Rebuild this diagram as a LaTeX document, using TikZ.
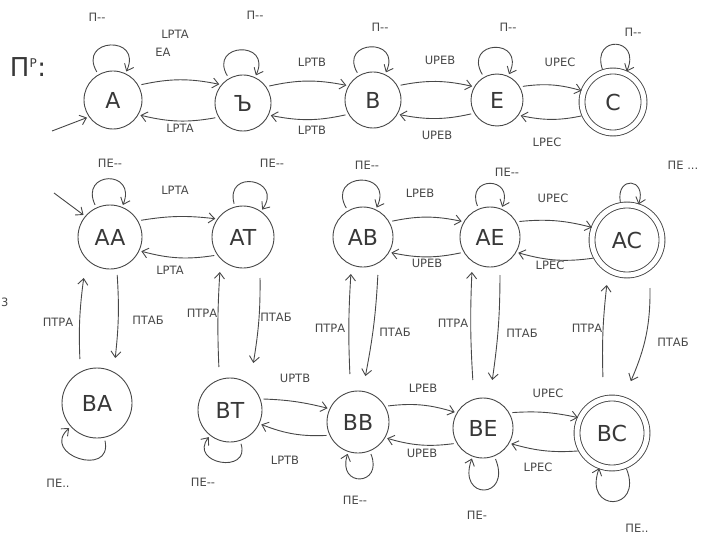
\documentclass[tikz,border=0pt]{standalone}
\usepackage{fontspec}
\setmainfont{DejaVu Sans}
\usetikzlibrary{arrows.meta,calc}
\begin{document}
\begin{tikzpicture}[x=1pt,y=1pt,
  ink/.style={draw=black!72, line width=0.9pt},
  state/.style={ink, circle, inner sep=0pt, font=\fontsize{22}{24}\selectfont, text=black!78},
  accept/.style={state, double, double distance=5pt},
  tr/.style={ink, -{Straight Barb[length=6pt,width=10pt]}, shorten >=2pt, shorten <=3pt},
  lbl/.style={font=\fontsize{11.5}{13}\selectfont, text=black!72, inner sep=1pt},
]
\useasboundingbox (0,0) rectangle (722,-540);

% title
\node[font=\fontsize{26}{28}\selectfont, text=black!78] (title) at (28,-67) {П\textsuperscript{\fontsize{12}{12}\selectfont P}:};

% ---- top row
\node[state, minimum size=58pt] (A) at (113,-100) {A};
\node[state, minimum size=56pt] (T) at (243,-103) {Ъ};
\node[state, minimum size=56pt] (B) at (373,-100) {B};
\node[state, minimum size=52pt] (E) at (497,-100) {E};
\node[accept, minimum size=62pt] (C) at (613,-102) {C};

% ---- middle row
\node[state, minimum size=64pt] (AA) at (110,-237) {AA};
\node[state, minimum size=62pt] (AT) at (243,-237) {AT};
\node[state, minimum size=60pt] (AB) at (363,-237) {AB};
\node[state, minimum size=60pt] (AE) at (490,-237) {AE};
\node[accept, minimum size=70pt] (AC) at (627,-240) {AC};

% ---- bottom row
\node[state, minimum size=70pt] (BA) at (97,-403) {BA};
\node[state, minimum size=64pt] (BT) at (230,-410) {BT};
\node[state, minimum size=62pt] (BB) at (358,-422) {BB};
\node[state, minimum size=60pt] (BE) at (483,-428) {BE};
\node[accept, minimum size=70pt] (BC) at (612,-433) {BC};

% initial arrows
\coordinate (i1) at (52,-131);
\coordinate (i2) at (54,-193);
\draw[tr, shorten <=0pt] (i1) -- (A.215);
\draw[tr, shorten <=0pt] (i2) -- (AA.140);

% ---- top row transitions
\draw[tr] (A.30) to[bend left=12] (T.140);
\draw[tr] (T.210) to[bend left=12] (A.330);
\draw[tr] (T.35) to[bend left=12] (B.150);
\draw[tr] (B.210) to[bend left=12] (T.335);
\draw[tr] (B.30) to[bend left=12] (E.150);
\draw[tr] (E.210) to[bend left=12] (B.330);
\draw[tr] (E.30) to[bend left=12] (C.160);
\draw[tr] (C.205) to[bend left=12] (E.325);

\node[lbl] (tA1) at (175,-34) {LPTA};
\node[lbl] (tA2) at (163,-52) {EA};
\node[lbl] (tA3) at (180,-128) {LPTA};
\node[lbl] (tB1) at (312,-62) {LPTB};
\node[lbl] (tB2) at (312,-130) {LPTB};
\node[lbl] (tE1) at (440,-60) {UPEB};
\node[lbl] (tE2) at (437,-135) {UPEB};
\node[lbl] (tC1) at (560,-62) {UPEC};
\node[lbl] (tC2) at (547,-142) {LPEC};

% top loops
\draw[tr] (A) to[out=120,in=65,looseness=4] (A);
\draw[tr] (T) to[out=120,in=65,looseness=4] (T);
\draw[tr] (B) to[out=120,in=65,looseness=4] (B);
\draw[tr] (E) to[out=120,in=65,looseness=4.5] (E);
\draw[tr] (C) to[out=108,in=66,looseness=4.5] (C);
\node[lbl] (pA) at (97,-17) {П-{}-};
\node[lbl] (pT) at (255,-15) {П-{}-};
\node[lbl] (pB) at (380,-27) {П-{}-};
\node[lbl] (pE) at (508,-27) {П-{}-};
\node[lbl] (pC) at (633,-32) {П-{}-};

% ---- middle row transitions
\draw[tr] (AA.30) to[bend left=8] (AT.145);
\draw[tr] (AT.215) to[bend left=12] (AA.335);
\draw[tr] (AB.30) to[bend left=12] (AE.150);
\draw[tr] (AE.210) to[bend left=12] (AB.330);
\draw[tr] (AE.30) to[bend left=10] (AC.160);
\draw[tr] (AC.210) to[bend left=12] (AE.330);

\node[lbl] (mA1) at (175,-190) {LPTA};
\node[lbl] (mA2) at (170,-270) {LPTA};
\node[lbl] (mE1) at (420,-193) {LPEB};
\node[lbl] (mE2) at (427,-263) {UPEB};
\node[lbl] (mC1) at (553,-198) {UPEC};
\node[lbl] (mC2) at (550,-265) {LPEC};

% middle loops
\draw[tr] (AA) to[out=115,in=68,looseness=4] (AA);
\draw[tr] (AT) to[out=105,in=55,looseness=3.8] (AT);
\draw[tr] (AB) to[out=120,in=65,looseness=4] (AB);
\draw[tr] (AE) to[out=112,in=68,looseness=4] (AE);
\draw[tr] (AC) to[out=100,in=72,looseness=4.5] (AC);
\node[lbl] (qAA) at (110,-163) {ПЕ-{}-};
\node[lbl] (qAT) at (272,-163) {ПЕ-{}-};
\node[lbl] (qAB) at (367,-165) {ПЕ-{}-};
\node[lbl] (qAE) at (507,-172) {ПЕ-{}-};
\node[lbl] (qAC) at (683,-165) {ПЕ ...};

% ---- vertical transitions
\draw[tr] ($(BA.center)+(-17,41)$) to[bend left=5] ($(AA.center)+(-26,-39)$);
\draw[tr] ($(AA.center)+(7,-35)$) to[bend left=5] ($(BA.center)+(18,43)$);
\draw[tr] ($(BT.center)+(-11,40)$) to[bend left=3] ($(AT.center)+(-23,-33)$);
\draw[tr] ($(AT.center)+(17,-38)$) to[bend left=5] ($(BT.center)+(23,45)$);
\draw[tr] ($(BB.center)+(-8,45)$) to[bend left=3] ($(AB.center)+(-12,-35)$);
\draw[tr] ($(AB.center)+(15,-35)$) to[bend left=4] ($(BB.center)+(7,44)$);
\draw[tr] ($(BE.center)+(-10,45)$) to[bend left=3] ($(AE.center)+(-18,-33)$);
\draw[tr] ($(AE.center)+(10,-35)$) to[bend left=4] ($(BE.center)+(9,46)$);
\draw[tr] ($(BC.center)+(-9,53)$) to[bend left=4] ($(AC.center)+(-20,-43)$);
\draw[tr] ($(AC.center)+(23,-45)$) to[bend left=12] ($(BC.center)+(18,50)$);

\node[lbl] (v1a) at (58,-322) {ПТРА};
\node[lbl] (v1b) at (148,-320) {ПТАБ};
\node[lbl] (v2a) at (202,-313) {ПТРА};
\node[lbl] (v2b) at (276,-317) {ПТАБ};
\node[lbl] (v3a) at (330,-328) {ПТРА};
\node[lbl] (v3b) at (395,-332) {ПТАБ};
\node[lbl] (v4a) at (453,-323) {ПТРА};
\node[lbl] (v4b) at (522,-333) {ПТАБ};
\node[lbl] (v5a) at (587,-328) {ПТРА};
\node[lbl] (v5b) at (673,-342) {ПТАБ};

% ---- bottom row transitions
\draw[tr] (BT.20) to[bend left=6] (BB.155);
\draw[tr] (BB.205) to[bend left=12] (BT.335);
\draw[tr] (BB.30) to[bend left=12] (BE.150);
\draw[tr] (BE.210) to[bend left=12] (BB.330);
\draw[tr] (BE.30) to[bend left=8] (BC.155);
\draw[tr] (BC.210) to[bend left=10] (BE.330);

\node[lbl] (bB1) at (295,-378) {UPTB};
\node[lbl] (bB2) at (285,-460) {LPTB};
\node[lbl] (bE1) at (423,-388) {LPEB};
\node[lbl] (bE2) at (422,-453) {UPEB};
\node[lbl] (bC1) at (548,-393) {UPEC};
\node[lbl] (bC2) at (538,-467) {LPEC};

% bottom loops
\draw[tr] (BA) to[out=-78,in=-138,looseness=3] (BA);
\draw[tr] (BT) to[out=-72,in=-128,looseness=3] (BT);
\draw[tr] (BB) to[out=-68,in=-108,looseness=4.5] (BB);
\draw[tr] (BE) to[out=-68,in=-110,looseness=5.5] (BE);
\draw[tr] (BC) to[out=-68,in=-110,looseness=5] (BC);
\node[lbl] (rBA) at (58,-483) {ПЕ..};
\node[lbl] (rBT) at (203,-482) {ПЕ-{}-};
\node[lbl] (rBB) at (355,-500) {ПЕ-{}-};
\node[lbl] (rBE) at (477,-515) {ПЕ-};
\node[lbl] (rBC) at (637,-528) {ПЕ..};

% small mark at the left edge
\node[lbl, anchor=west, inner sep=0pt] (edge3) at (1,-302) {3};
\end{tikzpicture}
\end{document}
